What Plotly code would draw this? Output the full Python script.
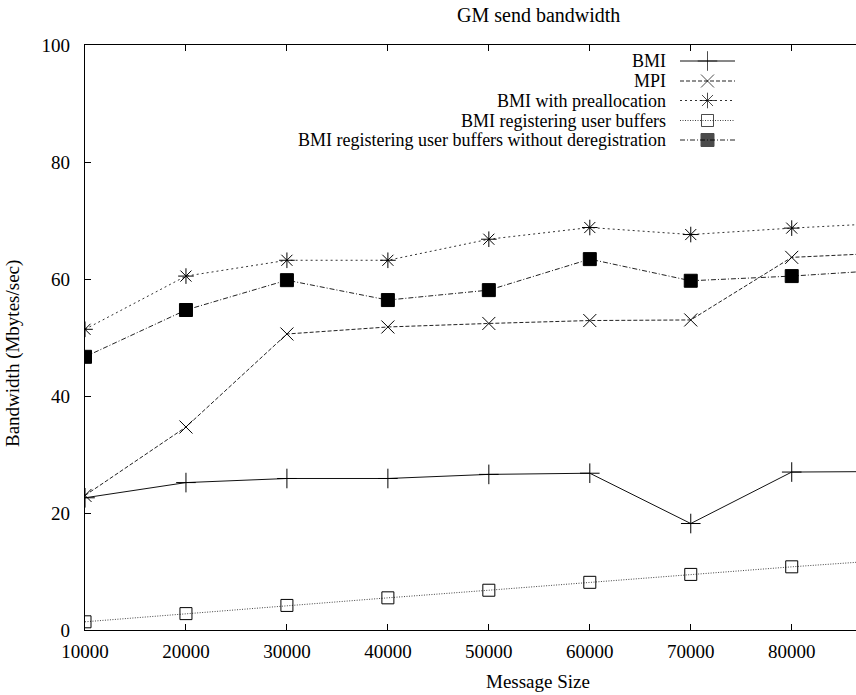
import plotly.graph_objects as go

# Message sizes (bytes) and measured send bandwidth (Mbytes/sec)
message_size = [10000, 20000, 30000, 40000, 50000, 60000, 70000, 80000, 90000]
bmi = [22.6, 25.2, 25.9, 25.9, 26.6, 26.8, 18.2, 27.0, 27.1]
mpi = [23.0, 34.7, 50.6, 51.8, 52.4, 52.9, 53.0, 63.7, 64.5]
bmi_prealloc = [51.4, 60.5, 63.2, 63.2, 66.8, 68.8, 67.6, 68.7, 69.6]
bmi_user_buffers = [1.4, 2.8, 4.2, 5.5, 6.8, 8.15, 9.5, 10.8, 12.0]
bmi_user_no_dereg = [46.7, 54.7, 59.8, 56.4, 58.1, 63.4, 59.7, 60.5, 61.6]

x_ticks = [10000, 20000, 30000, 40000, 50000, 60000, 70000, 80000]
x_tick_labels = [str(v) for v in x_ticks]
y_ticks = [0, 20, 40, 60, 80, 100]

series_names = [
    "BMI",
    "MPI",
    "BMI with preallocation",
    "BMI registering user buffers",
    "BMI registering user buffers without deregistration",
]
series_values = [bmi, mpi, bmi_prealloc, bmi_user_buffers, bmi_user_no_dereg]

# gnuplot-like line / point styles
styles = [
    dict(dash="solid", symbol="cross-thin-open", size=14, color="#111"),
    dict(dash="4px,2px", symbol="x-thin-open", size=13, color="#222"),
    dict(dash="2px,3px", symbol="asterisk-open", size=13, color="#333"),
    dict(dash="1px,1.5px", symbol="square-open", size=12, color="#444"),
    dict(dash="5px,2px,1px,2px", symbol="square", size=13, color="#222"),
]

W, H = 856, 695
L, R, T, B = 85, 0, 45, 65
FONT = "Liberation Serif, Times New Roman, serif"
FS = 19
KEY_FS = 18
TITLE_FS = 20

fig = go.Figure()

for name, vals, st in zip(series_names, series_values, styles):
    fig.add_trace(go.Scatter(
        x=message_size, y=vals, name=name, mode="lines+markers",
        line=dict(color=st["color"], width=1, dash=st["dash"]),
        marker=dict(symbol=st["symbol"], size=st["size"], color="#000",
                    line=dict(color="#000", width=1)),
        showlegend=False, cliponaxis=True,
    ))

# Key drawn gnuplot style: right-aligned label followed by a line sample
key_text_right = 668
key_sample = [680, 707.5, 735]
key_rows = [61, 81, 100.5, 120.5, 140]
for name, st, ky in zip(series_names, styles, key_rows):
    fig.add_trace(go.Scatter(
        x=key_sample, y=[ky] * 3, mode="lines+markers",
        xaxis="x2", yaxis="y2",
        line=dict(color=st["color"], width=1, dash=st["dash"]),
        marker=dict(symbol=st["symbol"], size=[0, st["size"], 0], color="#000",
                    line=dict(color="#000", width=1)),
        showlegend=False, hoverinfo="skip",
    ))
    fig.add_annotation(
        x=key_text_right, y=ky, xref="x2", yref="y2", text=name,
        showarrow=False, xanchor="right", yanchor="middle",
        font=dict(family=FONT, size=KEY_FS, color="#000"),
    )

px_per_decade = 100.96
x_max = 10000 + (W - L - R) / px_per_decade * 10000

fig.update_layout(
    width=W, height=H,
    margin=dict(l=L, r=R, t=T, b=B, pad=0),
    paper_bgcolor="white", plot_bgcolor="white",
    font=dict(family=FONT, size=FS, color="#000"),
    xaxis=dict(
        range=[10000, x_max], tickvals=x_ticks, ticktext=x_tick_labels,
        ticks="inside", ticklen=6, tickcolor="#000", tickwidth=1,
        showline=True, linecolor="#000", linewidth=1.2, mirror="ticks",
        showgrid=False, zeroline=False, ticklabelstandoff=4,
        tickfont=dict(family=FONT, size=FS, color="#000"),
    ),
    yaxis=dict(
        range=[0, 100], tickvals=y_ticks,
        ticks="inside", ticklen=6, tickcolor="#000", tickwidth=1,
        showline=True, linecolor="#000", linewidth=1.2, mirror=False,
        showgrid=False, zeroline=False, ticklabelstandoff=10,
        tickfont=dict(family=FONT, size=FS, color="#000"),
    ),
    xaxis2=dict(range=[L, W - R], overlaying="x", visible=False, fixedrange=True),
    yaxis2=dict(range=[H - B, T], overlaying="y", visible=False, fixedrange=True),
    showlegend=False,
)

plot_w = W - L - R
plot_h = H - T - B
def px_x(p):
    return (p - L) / plot_w
def px_y(p):
    return (H - B - p) / plot_h

fig.add_annotation(text="GM send bandwidth", x=px_x(538), y=px_y(15),
                   xref="paper", yref="paper", showarrow=False,
                   xanchor="center", yanchor="middle",
                   font=dict(family=FONT, size=TITLE_FS, color="#000"))
fig.add_annotation(text="Message Size", x=px_x(538), y=px_y(681),
                   xref="paper", yref="paper", showarrow=False,
                   xanchor="center", yanchor="middle",
                   font=dict(family=FONT, size=FS, color="#000"))
fig.add_annotation(text="Bandwidth (Mbytes/sec)", x=px_x(13), y=px_y(354),
                   xref="paper", yref="paper", showarrow=False, textangle=-90,
                   xanchor="center", yanchor="middle",
                   font=dict(family=FONT, size=FS, color="#000"))

fig.write_html("out.html")
